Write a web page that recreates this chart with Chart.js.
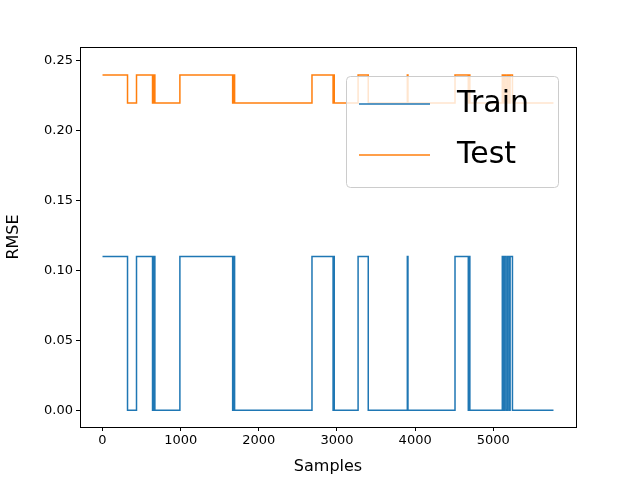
<!DOCTYPE html>
<html><head><meta charset="utf-8">
<script src="https://cdn.jsdelivr.net/npm/chart.js@4"></script>
<style>html,body{margin:0;padding:0;background:#fff}#w{width:640px;height:480px}</style>
</head><body><div id="w"><canvas id="c" width="640" height="480"></canvas></div>
<script>
const sampleX = [0,320,435,640,648,655,662,670,990,1665,1672,1678,1684,1690,2680,2950,2957,2965,3270,3400,3900,3908,4510,4680,4690,4700,5115,5125,5140,5160,5180,5200,5215,5245,5770];
const trainY = [0.11,0,0.11,0,0.11,0,0.11,0,0.11,0,0.11,0,0.11,0,0.11,0,0.11,0,0.11,0,0.11,0,0.11,0,0.11,0,0.11,0,0.11,0,0.11,0,0.11,0,0];
const testY = [0.24,0.22,0.24,0.22,0.24,0.22,0.24,0.22,0.24,0.22,0.24,0.22,0.24,0.22,0.24,0.22,0.24,0.22,0.24,0.22,0.24,0.22,0.24,0.22,0.24,0.22,0.24,0.22,0.24,0.22,0.24,0.22,0.24,0.22,0.22];
const xTicks = [0,1000,2000,3000,4000,5000];
const yTicks = [0,0.05,0.1,0.15,0.2,0.25];
const seriesNames = ['Train','Test'];
const colors = ['#1f77b4','#ff7f0e'];
const pts = ys => sampleX.map((x,i)=>({x, y: ys[i]}));
const font = {family:'DejaVu Sans', size:13};
const tickGrid = {display:true,drawOnChartArea:false,drawTicks:true,tickLength:4,color:'#000',tickColor:'#000'};
const frame = {id:'frame', afterDraw(ch){
  const c=ch.ctx, a=ch.chartArea;
  c.save(); c.strokeStyle='#000'; c.lineWidth=1;
  c.strokeRect(a.left+0.5,a.top+0.5,a.right-a.left,a.bottom-a.top);
  const lx=346, ly=76, lw=212, lh=111;
  c.fillStyle='rgba(255,255,255,0.8)'; c.strokeStyle='#ccc';
  c.beginPath(); c.roundRect(lx+0.5,ly+0.5,lw,lh,4); c.fill(); c.stroke();
  c.font='30px "DejaVu Sans"'; c.textBaseline='middle';
  seriesNames.forEach((n,i)=>{
    const yy=ly+28+i*51;
    c.strokeStyle=colors[i]; c.lineWidth=1.5;
    c.beginPath(); c.moveTo(359,yy); c.lineTo(430,yy); c.stroke();
    c.fillStyle='#000'; c.fillText(n,457,yy);
  });
  c.restore();
}};
new Chart(document.getElementById('c'),{
  type:'line',
  data:{datasets:[
    {label:seriesNames[0],data:pts(trainY),stepped:'before',borderColor:colors[0],borderWidth:1.5,pointRadius:0,fill:false},
    {label:seriesNames[1],data:pts(testY),stepped:'before',borderColor:colors[1],borderWidth:1.5,pointRadius:0,fill:false}
  ]},
  options:{responsive:false,animation:false,
    layout:{padding:{top:47,right:64,left:0,bottom:0}},
    plugins:{legend:{display:false},tooltip:{enabled:false}},
    scales:{
      x:{type:'linear',min:-288,max:6058,grid:tickGrid,border:{display:false},
        afterFit(s){s.height=53;},
        afterBuildTicks(s){s.ticks=xTicks.map(v=>({value:v}));},
        ticks:{font,color:'#000',autoSkip:false,maxRotation:0,padding:2,callback:v=>String(v)},
        title:{display:true,text:'Samples',font:{family:'DejaVu Sans',size:16},color:'#000',padding:{top:0}}},
      y:{min:-0.012,max:0.26,grid:tickGrid,border:{display:false},
        afterFit(s){s.width=80;},
        afterBuildTicks(s){s.ticks=yTicks.map(v=>({value:v}));},
        ticks:{font,color:'#000',padding:3,callback:v=>v.toFixed(2)},
        title:{display:true,text:'RMSE',font:{family:'DejaVu Sans',size:16},color:'#000',padding:{bottom:0}}}
    }},
  plugins:[frame]
});
</script></body></html>
